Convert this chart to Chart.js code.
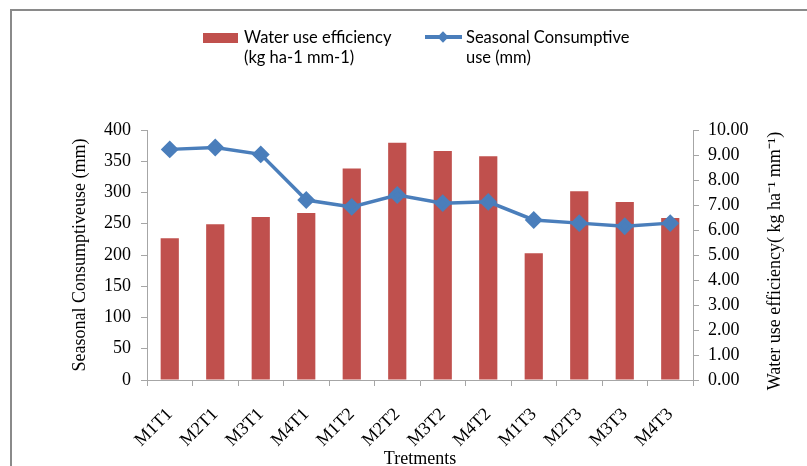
<!DOCTYPE html>
<html>
<head>
<meta charset="utf-8">
<script src="https://cdn.jsdelivr.net/npm/chart.js@4.4.1/dist/chart.umd.min.js"></script>
<style>
  html, body { margin: 0; padding: 0; background: #fff; }
  #wrap { position: relative; width: 807px; height: 466px; overflow: hidden; }
  #frame { position: absolute; left: 10px; top: 9px; width: 900px; height: 600px;
           border-top: 2px solid #8a8a8a; border-left: 2px solid #8a8a8a; }
  canvas { position: absolute; left: 0; top: 0; }
  .lg { position: absolute; font-family: Lato, "Liberation Sans", sans-serif; font-size: 16.5px;
        line-height: 20px; color: #000; white-space: nowrap; }
  #box1 { position: absolute; left: 203px; top: 33px; width: 35px; height: 10px; background: #c0504d; }
  #line2 { position: absolute; left: 425px; top: 35px; width: 37px; height: 4px; background: #4a7ebb; }
  #dia2 { position: absolute; left: 439px; top: 33px; width: 8px; height: 8px; background: #4a7ebb;
          transform: rotate(45deg); }
</style>
</head>
<body>
<div id="wrap">
  <div id="frame"></div>
  <canvas id="c" width="807" height="466"></canvas>
  <div id="box1"></div>
  <div class="lg" style="left:244px; top:27px;">Water use efficiency<br>(kg ha-1 mm-1)</div>
  <div id="line2"></div>
  <div id="dia2"></div>
  <div class="lg" style="left:466px; top:27px;">Seasonal Consumptive<br>use (mm)</div>
</div>
<script>
const categories = ['M1T1','M2T1','M3T1','M4T1','M1T2','M2T2','M3T2','M4T2','M1T3','M2T3','M3T3','M4T3'];
const wueValues = [5.67, 6.23, 6.52, 6.68, 8.46, 9.49, 9.16, 8.95, 5.07, 7.55, 7.12, 6.48];
const scuValues = [369, 372, 361, 288, 277, 296, 283, 285, 256, 251, 246, 251];
const leftTitle = 'Seasonal Consumptiveuse (mm)';
const rightTitle = 'Water use efficiency( kg ha\u207B\u00B9 mm\u207B\u00B9)';
const xTitle = 'Tretments';

const serif = '"Liberation Serif", "Times New Roman", serif';
const axisGray = '#a6a6a6';

const rightTitlePlugin = {
  id: 'rightTitle',
  afterDraw(chart) {
    const ctx = chart.ctx;
    const area = chart.chartArea;
    ctx.save();
    ctx.translate(775, (area.top + area.bottom) / 2 + 6);
    ctx.rotate(-Math.PI / 2);
    ctx.font = '18px ' + serif;
    ctx.fillStyle = '#000';
    ctx.textAlign = 'center';
    ctx.textBaseline = 'middle';
    ctx.fillText(rightTitle, 0, 0);
    ctx.restore();
  }
};

new Chart(document.getElementById('c'), {
  data: {
    labels: categories,
    datasets: [
      {
        type: 'line',
        label: 'Seasonal Consumptive use (mm)',
        data: scuValues,
        yAxisID: 'y',
        borderColor: '#4a7ebb',
        backgroundColor: '#4a7ebb',
        borderWidth: 3.5,
        pointStyle: 'rectRot',
        pointRadius: 6.5,
        pointHoverRadius: 6.5,
        tension: 0,
        order: 0
      },
      {
        type: 'bar',
        label: 'Water use efficiency (kg ha-1 mm-1)',
        data: wueValues,
        yAxisID: 'y1',
        backgroundColor: '#c0504d',
        borderWidth: 0,
        barPercentage: 0.4,
        categoryPercentage: 1.0,
        order: 1
      }
    ]
  },
  options: {
    responsive: false,
    animation: false,
    events: [],
    layout: { padding: { top: 130, left: 0, right: 0, bottom: 0 } },
    plugins: { legend: { display: false }, tooltip: { enabled: false } },
    scales: {
      x: {
        offset: true,
        grid: { display: true, drawOnChartArea: false, offset: true, color: axisGray, tickLength: 6 },
        border: { display: true, color: axisGray, width: 1 },
        ticks: { color: '#000', font: { family: serif, size: 18 }, minRotation: 45, maxRotation: 45, padding: 18, autoSkip: false },
        title: { display: true, text: xTitle, color: '#000', font: { family: serif, size: 18 }, padding: { top: 0, bottom: -4 } },
        afterFit(s) { s.height = 86; }
      },
      y: {
        position: 'left',
        min: 0, max: 400,
        grid: { display: true, drawOnChartArea: false, color: axisGray, tickLength: 6 },
        border: { display: true, color: axisGray, width: 1 },
        ticks: { stepSize: 50, color: '#000', font: { family: serif, size: 18 }, padding: 10 },
        title: { display: true, text: leftTitle, color: '#000', font: { family: serif, size: 18 }, padding: { top: 69, bottom: 0 } },
        afterFit(s) { s.width = 147; }
      },
      y1: {
        position: 'right',
        min: 0, max: 10,
        grid: { display: true, drawOnChartArea: false, color: axisGray, tickLength: 6 },
        border: { display: true, color: axisGray, width: 1 },
        ticks: { stepSize: 1, color: '#000', font: { family: serif, size: 18 }, padding: 9,
                 callback: (v) => Number(v).toFixed(2) },
        afterFit(s) { s.width = 114; }
      }
    }
  },
  plugins: [rightTitlePlugin]
});
</script>
</body>
</html>
